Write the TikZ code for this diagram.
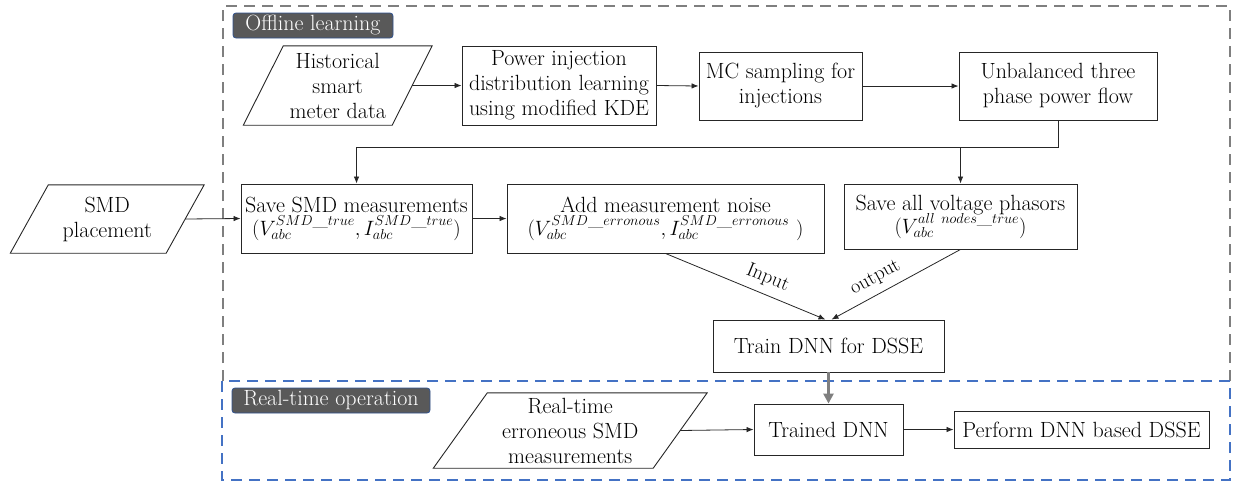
\documentclass[tikz,border=0pt]{standalone}
\usepackage{fontspec}
\usetikzlibrary{arrows.meta}
\definecolor{frgray}{HTML}{7F7F7F}
\definecolor{frblue}{HTML}{4472C4}
\definecolor{labfill}{HTML}{595959}
\definecolor{labdraw}{HTML}{2F528F}
\tikzset{
  every node/.style={font=\fontsize{22}{25}\selectfont},
  box/.style={draw=black!85, line width=0.9pt, inner sep=0pt, align=center},
  pgram/.style={inner sep=0pt, align=center},
  pline/.style={draw=black!85, line width=0.9pt},
  arr/.style={draw=black!85, line width=0.8pt, -{Latex[length=7pt,width=5.5pt]}},
  lab/.style={fill=labfill, draw=labdraw, line width=0.8pt, rounded corners=3pt, text=white, inner sep=0pt},
  frame/.style={line width=2.2pt, dash pattern=on 11pt off 7pt},
  flowlab/.style={font=\fontsize{20}{22}\selectfont, inner sep=7pt}
}
\begin{document}
\begin{tikzpicture}[x=1pt,y=-1pt]
\useasboundingbox (0,0) rectangle (1235,483);
% frames
\draw[frame, frgray] (223,381) -- (223,6) -- (1230,6) -- (1230,381);
\draw[frame, frblue] (222,381) rectangle (1230,480);
% labels
\node[lab, minimum width=160pt, minimum height=25pt] (offlab) at (313,25.5) {Offline learning};
\node[lab, minimum width=198pt, minimum height=25pt] (rtlab) at (331,400.5) {Real-time operation};
% top row
\node[pgram, minimum width=148.5pt, minimum height=79pt] (hist) at (337.75,85.5) {Historical\\smart\\meter data};
\draw[pline] ([xshift=20pt]hist.north west) -- ([xshift=20pt]hist.north east) -- ([xshift=-20pt]hist.south east) -- ([xshift=-20pt]hist.south west) -- cycle;
\node[box, minimum width=194pt, minimum height=79pt] (pinj) at (559,85.5) {Power injection\\distribution learning\\using modified KDE};
\node[box, minimum width=163pt, minimum height=68pt] (mc) at (780.5,86) {MC sampling for\\injections};
\node[box, minimum width=198pt, minimum height=68pt] (unb) at (1058,86) {Unbalanced three\\phase power flow};
% second row
\node[pgram, minimum width=155.5pt, minimum height=68pt] (smd) at (107.25,219) {SMD\\placement};
\draw[pline] ([xshift=19pt]smd.north west) -- ([xshift=19pt]smd.north east) -- ([xshift=-19pt]smd.south east) -- ([xshift=-19pt]smd.south west) -- cycle;
\node[box, minimum width=231pt, minimum height=69pt] (savesmd) at (356.5,218.5) {Save SMD measurements\\[-2pt]$(V_{abc}^{SMD\_true},I_{abc}^{SMD\_true})$};
\node[box, minimum width=317pt, minimum height=69pt] (noise) at (665.5,218.5) {Add measurement noise\\[-2pt]$(V_{abc}^{SMD\_erronous},I_{abc}^{SMD\_erronous}\ )$};
\node[box, minimum width=233pt, minimum height=65pt] (saveall) at (960.5,216.5) {Save all voltage phasors\\[-2pt]$(V_{abc}^{all\ nodes\_true})$};
% train
\node[box, minimum width=231pt, minimum height=52pt] (train) at (828.5,346) {Train DNN for DSSE};
% real-time row
\node[pgram, minimum width=219.5pt, minimum height=75pt] (rt) at (570.25,430.5) {Real-time\\erroneous SMD\\measurements};
\draw[pline] ([xshift=27pt]rt.north west) -- ([xshift=27pt]rt.north east) -- ([xshift=-27pt]rt.south east) -- ([xshift=-27pt]rt.south west) -- cycle;
\node[box, minimum width=149pt, minimum height=51pt] (trained) at (828.5,429.5) {Trained DNN};
\node[box, minimum width=255pt, minimum height=37pt] (perform) at (1081.5,429.5) {Perform DNN based DSSE};
% connectors
\draw[arr] (hist.east) -- (pinj.west);
\draw[arr] (pinj.east) -- (mc.west);
\draw[arr] (mc.east) -- (unb.west);
\coordinate (fbr) at (1058,147);
\coordinate (fbl) at (356.5,147);
\coordinate (fbm) at (960.5,147);
\draw[arr] (unb.south) -- (fbr) -- (fbl) -- (savesmd.north);
\draw[arr] (fbm) -- (saveall.north);
\draw[arr] (smd.east) -- (savesmd.west);
\draw[arr] (savesmd.east) -- (noise.west);
\draw[arr] (noise.south) -- node[flowlab, sloped, above, pos=0.6] {Input} ([xshift=-3pt]train.north);
\draw[arr] (saveall.south) -- node[flowlab, sloped, above, pos=0.6] {output} ([xshift=3pt]train.north);
\draw[draw=frgray, line width=2.8pt, -{Triangle[length=10pt,width=10pt]}] (train.south) -- (trained.north);
\draw[arr] (rt.east) -- (trained.west);
\draw[arr] (trained.east) -- (perform.west);
\end{tikzpicture}
\end{document}
